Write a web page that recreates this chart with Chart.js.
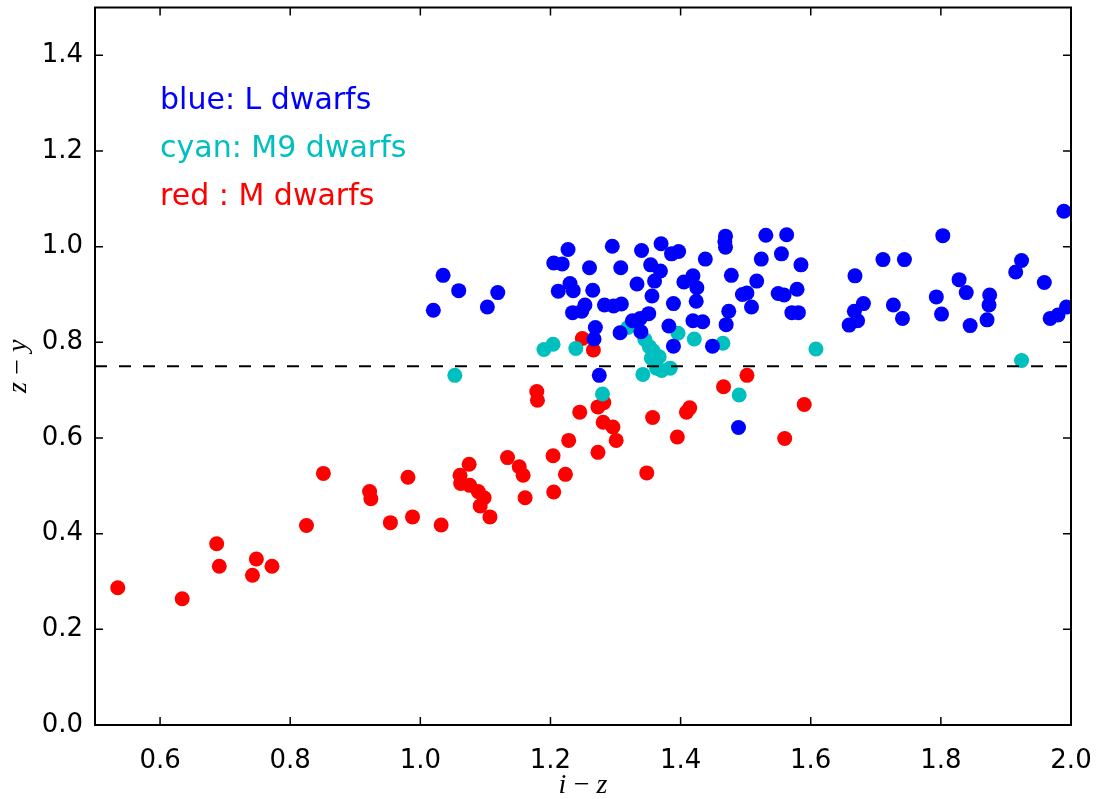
<!DOCTYPE html>
<html>
<head>
<meta charset="utf-8">
<script src="https://cdn.jsdelivr.net/npm/chart.js@4.4.0/dist/chart.umd.min.js"></script>
<style>
  body { margin: 0; background: #fff; }
  #wrap { width: 1105px; height: 799px; }
</style>
</head>
<body>
<div id="wrap"><canvas id="myChart"></canvas></div>
<script>
// values (i-z, z-y)
const lDwarfsX = [1.020, 1.035, 1.059, 1.103, 1.119, 1.205, 1.212, 1.218, 1.227, 1.230, 1.234, 1.235, 1.248, 1.253, 1.260, 1.265, 1.267, 1.269, 1.275, 1.283, 1.295, 1.297, 1.307, 1.308, 1.309, 1.326, 1.333, 1.338, 1.339, 1.340, 1.351, 1.354, 1.356, 1.360, 1.369, 1.370, 1.382, 1.386, 1.389, 1.389, 1.397, 1.405, 1.419, 1.419, 1.424, 1.425, 1.434, 1.438, 1.449, 1.468, 1.469, 1.469, 1.470, 1.474, 1.478, 1.489, 1.495, 1.502, 1.509, 1.517, 1.524, 1.531, 1.550, 1.555, 1.559, 1.563, 1.571, 1.579, 1.581, 1.585, 1.659, 1.667, 1.668, 1.672, 1.681, 1.711, 1.727, 1.741, 1.744, 1.793, 1.801, 1.803, 1.828, 1.839, 1.845, 1.871, 1.874, 1.875, 1.915, 1.924, 1.959, 1.968, 1.980, 1.989, 1.993];
const lDwarfsY = [0.867, 0.940, 0.908, 0.874, 0.904, 0.966, 0.907, 0.964, 0.994, 0.923, 0.862, 0.908, 0.865, 0.878, 0.956, 0.909, 0.807, 0.831, 0.731, 0.878, 1.001, 0.876, 0.820, 0.956, 0.880, 0.845, 0.922, 0.850, 0.822, 0.992, 0.860, 0.962, 0.897, 0.928, 0.949, 1.006, 0.834, 0.985, 0.881, 0.792, 0.990, 0.926, 0.939, 0.845, 0.886, 0.914, 0.843, 0.974, 0.792, 1.011, 1.022, 0.999, 0.837, 0.865, 0.940, 0.622, 0.900, 0.903, 0.874, 0.928, 0.974, 1.024, 0.902, 0.985, 0.899, 1.025, 0.862, 0.911, 0.862, 0.962, 0.836, 0.865, 0.939, 0.845, 0.881, 0.973, 0.878, 0.850, 0.973, 0.895, 0.859, 1.023, 0.931, 0.904, 0.835, 0.847, 0.878, 0.899, 0.947, 0.971, 0.925, 0.850, 0.857, 1.074, 0.874];

const m9DwarfsX = [1.053, 1.190, 1.204, 1.239, 1.280, 1.319, 1.342, 1.345, 1.352, 1.358, 1.355, 1.367, 1.363, 1.371, 1.384, 1.396, 1.421, 1.465, 1.490, 1.608, 1.924];
const m9DwarfsY = [0.731, 0.785, 0.796, 0.787, 0.692, 0.831, 0.733, 0.806, 0.791, 0.782, 0.767, 0.770, 0.746, 0.741, 0.746, 0.819, 0.807, 0.798, 0.690, 0.786, 0.762];

const mDwarfsX = [0.535, 0.634, 0.687, 0.691, 0.748, 0.742, 0.772, 0.825, 0.851, 0.922, 0.924, 0.954, 0.981, 0.988, 1.032, 1.061, 1.062, 1.075, 1.076, 1.089, 1.098, 1.092, 1.107, 1.134, 1.152, 1.158, 1.161, 1.179, 1.180, 1.204, 1.205, 1.223, 1.228, 1.245, 1.249, 1.266, 1.273, 1.282, 1.281, 1.296, 1.301, 1.273, 1.348, 1.357, 1.395, 1.409, 1.414, 1.466, 1.502, 1.560, 1.590];
const mDwarfsY = [0.287, 0.264, 0.379, 0.332, 0.347, 0.313, 0.332, 0.417, 0.526, 0.488, 0.473, 0.423, 0.518, 0.435, 0.418, 0.522, 0.505, 0.545, 0.501, 0.488, 0.475, 0.458, 0.435, 0.559, 0.540, 0.522, 0.475, 0.697, 0.679, 0.563, 0.487, 0.524, 0.595, 0.654, 0.808, 0.784, 0.665, 0.674, 0.633, 0.623, 0.595, 0.570, 0.527, 0.643, 0.602, 0.654, 0.663, 0.707, 0.731, 0.599, 0.670];

const cutX = [0.5, 2.0];
const cutY = [0.75, 0.75];

const xTicks = [0.6, 0.8, 1.0, 1.2, 1.4, 1.6, 1.8, 2.0];
const yTicks = [0.0, 0.2, 0.4, 0.6, 0.8, 1.0, 1.2, 1.4];

const notes = [
    { text: 'blue: L dwarfs', color: '#0000ff', x: 0.6, y: 1.3 },
    { text: 'cyan: M9 dwarfs', color: '#00bfbf', x: 0.6, y: 1.2 },
    { text: 'red : M dwarfs', color: '#ff0000', x: 0.6, y: 1.1 }
];

const pts = (xs, ys) => xs.map((x, i) => ({ x: x, y: ys[i] }));

// frame with inward ticks on all four sides, plus the text notes
const framePlugin = {
    id: 'frame',
    afterDraw(chart) {
        const { ctx, chartArea: a, scales } = chart;
        ctx.save();
        ctx.strokeStyle = '#000';
        ctx.lineWidth = 1.5;
        ctx.beginPath();
        xTicks.forEach(v => {
            const px = scales.x.getPixelForValue(v);
            ctx.moveTo(px, a.bottom); ctx.lineTo(px, a.bottom - 8);
            ctx.moveTo(px, a.top); ctx.lineTo(px, a.top + 8);
        });
        yTicks.forEach(v => {
            const py = scales.y.getPixelForValue(v);
            ctx.moveTo(a.left, py); ctx.lineTo(a.left + 8, py);
            ctx.moveTo(a.right, py); ctx.lineTo(a.right - 8, py);
        });
        ctx.stroke();
        ctx.lineWidth = 2;
        ctx.strokeRect(a.left, a.top, a.right - a.left, a.bottom - a.top);

        ctx.font = '30px "DejaVu Sans"';
        ctx.textAlign = 'left';
        ctx.textBaseline = 'middle';
        notes.forEach(n => {
            ctx.fillStyle = n.color;
            ctx.fillText(n.text, scales.x.getPixelForValue(n.x), scales.y.getPixelForValue(n.y) - 2);
        });
        ctx.restore();
    }
};

const ctx = document.getElementById('myChart');
new Chart(ctx, {
    type: 'scatter',
    data: {
        datasets: [
            {
                label: 'cut',
                data: pts(cutX, cutY),
                showLine: true,
                borderColor: '#000',
                borderWidth: 2,
                borderDash: [12, 12],
                pointRadius: 0,
                order: 0
            },
            {
                label: 'L dwarfs',
                data: pts(lDwarfsX, lDwarfsY),
                backgroundColor: '#0000ff',
                pointRadius: 7.5,
                borderWidth: 0,
                order: 1
            },
            {
                label: 'M9 dwarfs',
                data: pts(m9DwarfsX, m9DwarfsY),
                backgroundColor: '#00bfbf',
                pointRadius: 7.5,
                borderWidth: 0,
                order: 2
            },
            {
                label: 'M dwarfs',
                data: pts(mDwarfsX, mDwarfsY),
                backgroundColor: '#ff0000',
                pointRadius: 7.5,
                borderWidth: 0,
                order: 3
            }
        ]
    },
    options: {
        responsive: true,
        maintainAspectRatio: false,
        animation: false,
        clip: 0,
        layout: { padding: { top: 4, right: 34, left: 0, bottom: 0 } },
        plugins: { legend: { display: false }, tooltip: { enabled: false } },
        scales: {
            x: {
                type: 'linear',
                min: 0.5,
                max: 2.0,
                grid: { display: false },
                border: { display: false },
                afterBuildTicks: s => { s.ticks = xTicks.map(v => ({ value: v })); },
                afterFit: s => { s.height = 74; s.paddingLeft = 0; s.paddingRight = 0; },
                ticks: {
                    padding: 13,
                    color: '#000',
                    font: { family: 'DejaVu Sans', size: 26 },
                    callback: v => v.toFixed(1)
                },
                title: {
                    display: true,
                    text: 'i\u2009\u2212\u2009z',
                    color: '#000',
                    padding: { top: 0, bottom: -1 },
                    font: { family: 'Liberation Serif', style: 'italic', size: 28, lineHeight: 1.0 }
                }
            },
            y: {
                type: 'linear',
                min: 0.0,
                max: 1.5,
                grid: { display: false },
                border: { display: false },
                afterBuildTicks: s => { s.ticks = yTicks.map(v => ({ value: v })); },
                afterFit: s => { s.width = 95; s.paddingTop = 0; s.paddingBottom = 0; },
                ticks: {
                    padding: 4,
                    color: '#000',
                    font: { family: 'DejaVu Sans', size: 26 },
                    callback: v => v.toFixed(1)
                },
                title: {
                    display: true,
                    text: 'z\u2009\u2212\u2009y',
                    color: '#000',
                    padding: { top: 5, bottom: 0 },
                    font: { family: 'Liberation Serif', style: 'italic', size: 28, lineHeight: 1.0 }
                }
            }
        }
    },
    plugins: [framePlugin]
});
</script>
</body>
</html>
